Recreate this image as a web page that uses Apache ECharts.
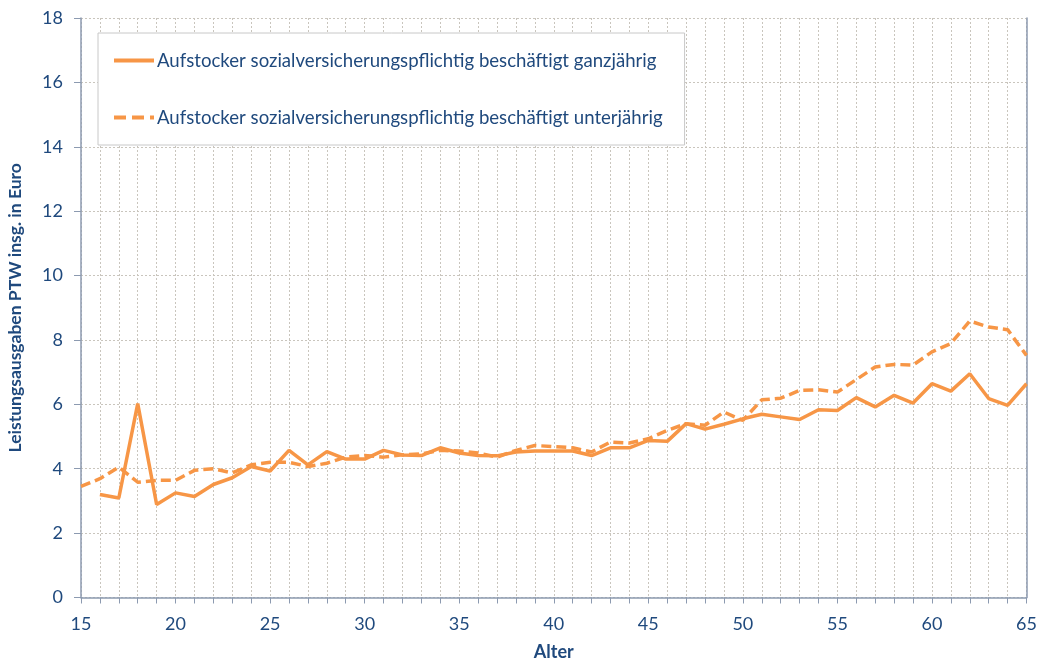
<!DOCTYPE html>
<html>
<head>
<meta charset="utf-8">
<script src="https://cdn.jsdelivr.net/npm/echarts@6/dist/echarts.min.js"></script>
<style>
  html, body { margin: 0; padding: 0; background: #ffffff; }
  #chart { width: 1037px; height: 660px; }
</style>
</head>
<body>
<div id="chart"></div>
<script>
// Alter 15 .. 65
const ages = [15,16,17,18,19,20,21,22,23,24,25,26,27,28,29,30,31,32,33,34,35,36,37,38,39,40,
  41,42,43,44,45,46,47,48,49,50,51,52,53,54,55,56,57,58,59,60,61,62,63,64,65];

// ganzjährig (kein Wert bei 15)
const ganzjaehrig = [null,3.20,3.09,6.02,2.89,3.25,3.14,3.51,3.72,4.07,3.93,4.57,4.12,4.53,4.30,4.30,
  4.57,4.43,4.41,4.65,4.49,4.41,4.40,4.52,4.55,4.55,4.55,4.41,4.65,4.65,4.88,4.85,5.40,5.23,5.38,5.55,
  5.69,5.61,5.53,5.83,5.81,6.21,5.92,6.28,6.04,6.64,6.41,6.95,6.18,5.97,6.64];

// unterjährig
const unterjaehrig = [3.45,3.69,4.05,3.58,3.64,3.64,3.95,4.00,3.87,4.12,4.20,4.20,4.07,4.17,4.36,4.41,
  4.36,4.43,4.46,4.57,4.55,4.49,4.36,4.57,4.72,4.69,4.65,4.52,4.83,4.80,4.93,5.19,5.40,5.35,5.76,5.50,
  6.14,6.19,6.43,6.45,6.38,6.77,7.16,7.24,7.22,7.63,7.89,8.59,8.40,8.32,7.52];

const seriesNames = [
  'Aufstocker sozialversicherungspflichtig beschäftigt ganzjährig',
  'Aufstocker sozialversicherungspflichtig beschäftigt unterjährig'
];

const textColor = '#1F497D';
const axisColor = '#8C9AB0';
const gridColor = '#C9C5BD';
const lineColor = '#F79646';
const font = 'Lato';

const solidIcon = 'path://M0,0h40v4h-40z';
const dashIcon = 'path://M0,0h12v4h-12z M18,0h12v4h-12z M36,0h4v4h-4z';

const chart = echarts.init(document.getElementById('chart'), null, { renderer: 'canvas' });

chart.setOption({
  animation: false,
  backgroundColor: '#ffffff',
  textStyle: { fontFamily: font, color: textColor },
  grid: { left: 81, right: 10.5, top: 18, bottom: 62.5, containLabel: false, outerBoundsMode: 'none' },
  legend: {
    left: 98, top: 33,
    orient: 'vertical',
    backgroundColor: '#ffffff',
    borderColor: '#C8C8C8', borderWidth: 1,
    padding: [18, 22, 18, 16],
    itemWidth: 40, itemHeight: 4, itemGap: 38,
    textStyle: { fontFamily: font, fontSize: 18.6, color: textColor, padding: [0, 0, 0, -2] },
    data: [
      { name: seriesNames[0], icon: solidIcon, itemStyle: { color: lineColor } },
      { name: seriesNames[1], icon: dashIcon, itemStyle: { color: lineColor } }
    ]
  },
  xAxis: {
    type: 'value', min: 15, max: 65, interval: 1,
    name: 'Alter', nameLocation: 'middle', nameGap: 46,
    nameTextStyle: { fontFamily: font, fontSize: 18, fontWeight: 'bold', color: textColor },
    axisLine: { lineStyle: { color: axisColor, width: 1.5 } },
    axisTick: { show: true, length: 6, lineStyle: { color: axisColor, width: 1 } },
    axisLabel: {
      margin: 18, fontFamily: font, fontSize: 18, color: textColor,
      formatter: v => (v % 5 === 0 ? String(v) : '')
    },
    splitLine: { show: true, lineStyle: { color: gridColor, type: [2, 2], width: 1 } }
  },
  yAxis: [{
    type: 'value', min: 0, max: 18, interval: 2,
    name: 'Leistungsausgaben PTW insg. in Euro', nameLocation: 'middle', nameGap: 57,
    nameTextStyle: { fontFamily: font, fontSize: 17.5, fontWeight: 'bold', color: textColor },
    axisLine: { show: true, lineStyle: { color: axisColor, width: 1.5 } },
    axisTick: { show: true, length: 7, lineStyle: { color: axisColor, width: 1 } },
    axisLabel: { margin: 18, fontFamily: font, fontSize: 18, color: textColor },
    splitLine: { show: true, lineStyle: { color: gridColor, type: [2, 2], width: 1 } }
  }, {
    type: 'value', min: 0, max: 18, interval: 2, position: 'right',
    axisLine: { show: true, lineStyle: { color: axisColor, width: 1.5 } },
    axisTick: { show: false }, axisLabel: { show: false }, splitLine: { show: false }
  }],
  series: [{
    name: seriesNames[0], type: 'line', showSymbol: false, symbol: 'none',
    data: ages.map((a, i) => [a, ganzjaehrig[i]]),
    lineStyle: { color: lineColor, width: 3.5 },
    itemStyle: { color: lineColor }
  }, {
    name: seriesNames[1], type: 'line', showSymbol: false, symbol: 'none',
    data: ages.map((a, i) => [a, unterjaehrig[i]]),
    lineStyle: { color: lineColor, width: 3.5, type: [10, 5] },
    itemStyle: { color: lineColor }
  }]
});
</script>
</body>
</html>
